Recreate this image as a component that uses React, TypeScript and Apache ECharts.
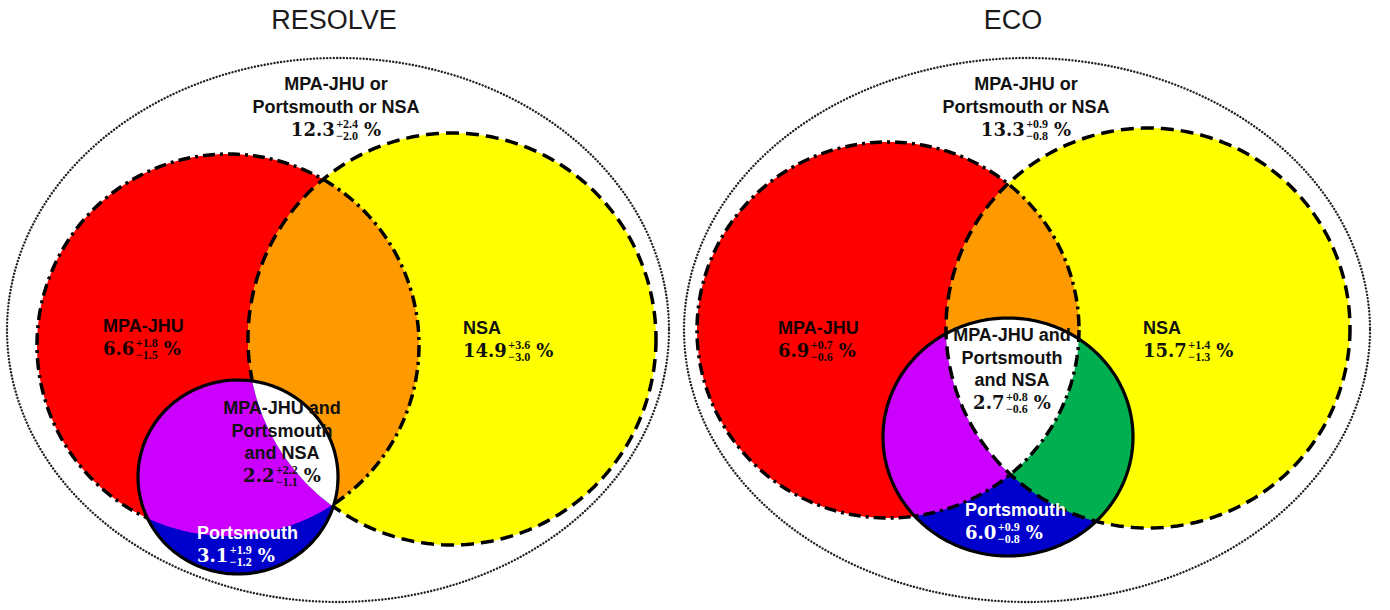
import React, { useEffect, useRef } from "react";
import * as echarts from "echarts";

// ---------- data ----------
const panels = ["RESOLVE", "ECO"];
const unionLines = ["MPA-JHU or", "Portsmouth or NSA"];
const allLines = ["MPA-JHU and", "Portsmouth", "and NSA"];
const mpaName = "MPA-JHU";
const nsaName = "NSA";
const portsName = "Portsmouth";

const unionPct = [12.3, 13.3];
const unionUp = [2.4, 0.9];
const unionDown = [2.0, 0.8];
const mpaPct = [6.6, 6.9];
const mpaUp = [1.8, 0.7];
const mpaDown = [1.5, 0.6];
const nsaPct = [14.9, 15.7];
const nsaUp = [3.6, 1.4];
const nsaDown = [3.0, 1.3];
const portsPct = [3.1, 6.0];
const portsUp = [1.9, 0.9];
const portsDown = [1.2, 0.8];
const allPct = [2.2, 2.7];
const allUp = [2.2, 0.8];
const allDown = [1.1, 0.6];

// ---------- layout (chart units, axis space 1390 x 610) ----------
type Ell = [number, number, number, number];
const outerEll: Ell[] = [[338, 330, 331, 272], [1027, 330, 343, 272]];
const mpaEll: Ell[] = [[228, 345, 191, 191], [888, 330, 191, 188]];
const nsaEll: Ell[] = [[452, 339, 204, 206], [1148, 328, 202, 200]];
const portsEll: Ell[] = [[238, 477, 100, 97], [1008, 437, 125, 119]];
const titlePos = [[334, 20], [1013, 20]];
const unionPos = [[336, 84], [1026, 84]];
const mpaPos = [[103, 326], [778, 328]];
const nsaPos = [[463, 328], [1143, 328]];
const allPos = [[282, 408], [1012, 335]];
const portsPos = [[197, 533], [965, 510]];
const bordersOverPorts = [false, true];
const LINE_GAP = 22.5;

const COLORS = {
  red: "#FF0000",
  yellow: "#FFFF00",
  orange: "#FF9900",
  purple: "#CC00FF",
  blue: "#0000CC",
  green: "#00B050",
  white: "#FFFFFF",
};

const LABEL_FONT = 'bold 18px "Liberation Sans", Arial, sans-serif';
const BASE_FONT = 'bold 18px "DejaVu Serif", serif';
const SCRIPT_FONT = 'bold 12px "Liberation Serif", serif';

let measureCtx: CanvasRenderingContext2D | null = null;
function measure(s: string, font: string): number {
  if (!measureCtx) measureCtx = document.createElement("canvas").getContext("2d");
  measureCtx!.font = font;
  return measureCtx!.measureText(s).width;
}

function ellipsePts(e: number[], n = 260): number[][] {
  const pts: number[][] = [];
  for (let k = 0; k < n; k++) {
    const t = (2 * Math.PI * k) / n;
    pts.push([e[0] + e[2] * Math.cos(t), e[1] + e[3] * Math.sin(t)]);
  }
  return pts;
}

function clipPoly(subject: number[][], clipper: number[][]): number[][] {
  let out = subject;
  const n = clipper.length;
  for (let i = 0; i < n && out.length; i++) {
    const a = clipper[i];
    const b = clipper[(i + 1) % n];
    const inp = out;
    out = [];
    const side = (p: number[]) => (b[0] - a[0]) * (p[1] - a[1]) - (b[1] - a[1]) * (p[0] - a[0]);
    for (let j = 0; j < inp.length; j++) {
      const cur = inp[j];
      const prev = inp[(j + inp.length - 1) % inp.length];
      const sc = side(cur);
      const sp = side(prev);
      const cross = () => {
        const t = sp / (sp - sc);
        return [prev[0] + t * (cur[0] - prev[0]), prev[1] + t * (cur[1] - prev[1])];
      };
      if (sc >= 0) {
        if (sp < 0) out.push(cross());
        out.push(cur);
      } else if (sp >= 0) {
        out.push(cross());
      }
    }
  }
  return out;
}

function fillPoly(points: number[][], fill: string) {
  return { type: "polygon", shape: { points }, style: { fill, stroke: "none" } };
}

function outlinePoly(points: number[][], dash: number[] | null, width: number, cap = "butt", color = "#000") {
  return {
    type: "polygon",
    shape: { points },
    style: {
      fill: "none",
      stroke: color,
      lineWidth: width,
      lineDash: dash || undefined,
      lineCap: cap,
    },
  };
}

function textEl(text: string, x: number, y: number, font: string, fill: string, align: string) {
  return {
    type: "text",
    x,
    y,
    style: { text, font, fill, align, verticalAlign: "middle" },
  };
}

function valueEls(x: number, y: number, align: string, v: number, up: number, down: number, fill: string) {
  const base = v.toFixed(1);
  const sup = "+" + up.toFixed(1);
  const sub = "\u2212" + down.toFixed(1);
  const wBase = measure(base, BASE_FONT);
  const wScript = Math.max(measure(sup, SCRIPT_FONT), measure(sub, SCRIPT_FONT));
  const wPct = measure("%", BASE_FONT);
  const total = wBase + 1.5 + wScript + 6 + wPct;
  const x0 = align === "left" ? x : x - total / 2;
  return [
    textEl(base, x0, y, BASE_FONT, fill, "left"),
    textEl(sup, x0 + wBase + 1.5, y - 5.5, SCRIPT_FONT, fill, "left"),
    textEl(sub, x0 + wBase + 1.5, y + 6.5, SCRIPT_FONT, fill, "left"),
    textEl("%", x0 + wBase + 1.5 + wScript + 6, y, BASE_FONT, fill, "left"),
  ];
}

export default function App() {
  const ref = useRef<HTMLDivElement>(null);

  useEffect(() => {
    if (!ref.current) return;
    const chart = echarts.init(ref.current, undefined, { renderer: "svg" });

    const renderItem = (params: any, api: any) => {
      const i = params.dataIndex;
      const toPx = (e: Ell) => {
        const c = api.coord([e[0], e[1]]);
        const s = api.size([e[2] * 2, e[3] * 2], [e[0], e[1]]);
        return [c[0], c[1], s[0] / 2, s[1] / 2];
      };
      const pt = (p: number[]) => api.coord(p);

      const outer = ellipsePts(toPx(outerEll[i]), 400);
      const A = ellipsePts(toPx(mpaEll[i]));
      const B = ellipsePts(toPx(nsaEll[i]));
      const C = ellipsePts(toPx(portsEll[i]));

      const AB = clipPoly(A, B);
      const CA = clipPoly(C, A);
      const CB = clipPoly(C, B);
      const CAB = clipPoly(CA, B);

      const children: any[] = [];
      children.push(outlinePoly(outer, [0.01, 3.3], 2.4, "round", "#222"));
      children.push(fillPoly(A, COLORS.red));
      children.push(fillPoly(B, COLORS.yellow));
      if (AB.length > 2) children.push(fillPoly(AB, COLORS.orange));

      const borders = [outlinePoly(A, [12, 5, 3, 5], 3.5), outlinePoly(B, [13, 7], 3.5)];
      if (!bordersOverPorts[i]) children.push(...borders);

      children.push(fillPoly(C, COLORS.blue));
      if (CA.length > 2) children.push(fillPoly(CA, COLORS.purple));
      if (CB.length > 2) children.push(fillPoly(CB, COLORS.green));
      if (CAB.length > 2) children.push(fillPoly(CAB, COLORS.white));

      if (bordersOverPorts[i]) children.push(...borders);
      children.push(outlinePoly(C, null, 3.2));

      // title
      const tp = pt(titlePos[i]);
      children.push(
        textEl(panels[i], tp[0], tp[1], '27px "Liberation Sans", Arial, sans-serif', "#1a1a1a", "center")
      );

      // union label
      const up = pt(unionPos[i]);
      unionLines.forEach((s, k) => children.push(textEl(s, up[0], up[1] + k * LINE_GAP, LABEL_FONT, "#111", "center")));
      children.push(...valueEls(up[0], up[1] + unionLines.length * LINE_GAP, "center", unionPct[i], unionUp[i], unionDown[i], "#111"));

      // MPA-JHU
      const mp = pt(mpaPos[i]);
      children.push(textEl(mpaName, mp[0], mp[1], LABEL_FONT, "#140000", "left"));
      children.push(...valueEls(mp[0], mp[1] + LINE_GAP, "left", mpaPct[i], mpaUp[i], mpaDown[i], "#140000"));

      // NSA
      const np = pt(nsaPos[i]);
      children.push(textEl(nsaName, np[0], np[1], LABEL_FONT, "#111", "left"));
      children.push(...valueEls(np[0], np[1] + LINE_GAP, "left", nsaPct[i], nsaUp[i], nsaDown[i], "#111"));

      // all three
      const ap = pt(allPos[i]);
      allLines.forEach((s, k) => children.push(textEl(s, ap[0], ap[1] + k * LINE_GAP, LABEL_FONT, "#111", "center")));
      children.push(...valueEls(ap[0], ap[1] + allLines.length * LINE_GAP, "center", allPct[i], allUp[i], allDown[i], "#111"));

      // Portsmouth
      const pp = pt(portsPos[i]);
      children.push(textEl(portsName, pp[0], pp[1], LABEL_FONT, "#FFFFFF", "left"));
      children.push(...valueEls(pp[0], pp[1] + LINE_GAP, "left", portsPct[i], portsUp[i], portsDown[i], "#FFFFFF"));

      return { type: "group", children };
    };

    chart.setOption({
      animation: false,
      backgroundColor: "#ffffff",
      grid: { left: 0, right: 0, top: 0, bottom: 0 },
      xAxis: { type: "value", min: 0, max: 1390, show: false },
      yAxis: { type: "value", min: 0, max: 610, inverse: true, show: false },
      series: [
        {
          type: "custom",
          silent: true,
          clip: false,
          renderItem,
          data: panels.map((_, i) => [outerEll[i][0], outerEll[i][1]]),
        },
      ],
    });

    return () => chart.dispose();
  }, []);

  return (
    <div
      ref={ref}
      style={{ position: "fixed", left: 0, top: 0, width: 1390, height: 610, background: "#fff" }}
    />
  );
}
